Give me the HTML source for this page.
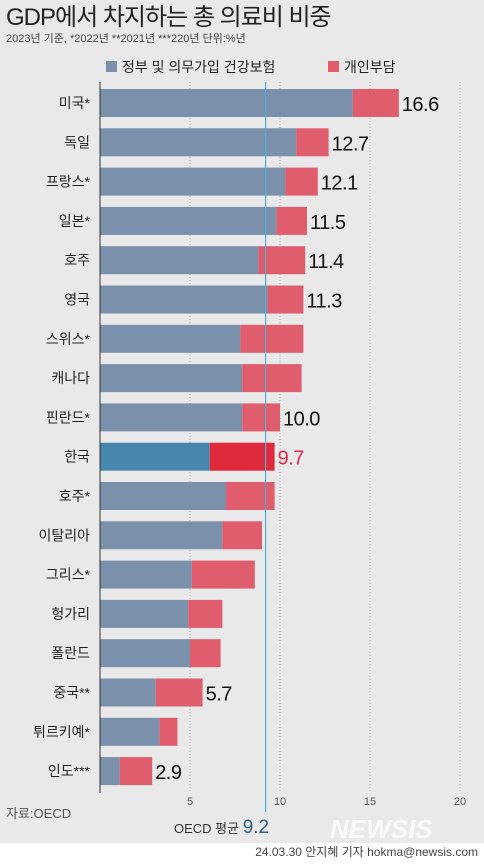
<!DOCTYPE html>
<html><head><meta charset="utf-8"><style>
body{margin:0;width:484px;height:861px;overflow:hidden;background:#fff;font-family:"Liberation Sans","Noto Sans CJK KR",sans-serif}
</style></head><body>
<svg width="484" height="861" xmlns="http://www.w3.org/2000/svg" font-family="Liberation Sans, Noto Sans CJK KR, sans-serif">
<rect x="0" y="0" width="484" height="843" fill="#e9e9ea"/>
<text x="6" y="25" font-size="24" fill="#222" letter-spacing="-1">GDP에서 차지하는 총 의료비 비중</text>
<text x="6" y="42" font-size="11" fill="#444">2023년 기준, *2022년 **2021년 ***220년 단위:%년</text>
<rect x="106" y="61" width="11" height="11" fill="#7b90aa"/>
<text x="122" y="72" font-size="14" fill="#222">정부 및 의무가입 건강보험</text>
<rect x="328" y="61" width="11" height="11" fill="#e05d6d"/>
<text x="344" y="72" font-size="14" fill="#222">개인부담</text>
<g id="grid"></g>
<g id="bars"></g>
<line x1="100" y1="82" x2="100" y2="793" stroke="#333" stroke-width="1"/>
<text x="6" y="818" font-size="13" fill="#555">자료:OECD</text>
<text x="174" y="833" font-size="13" fill="#333">OECD 평균 <tspan font-size="19" fill="#2f5f8a">9.2</tspan></text>
<text x="330" y="838" font-size="26" font-style="italic" font-weight="bold" fill="#fff" opacity="0.8">NEWSIS</text>
<text x="478" y="856" font-size="12" fill="#444" text-anchor="end">24.03.30 안지혜 기자 hokma@newsis.com</text>
</svg>
<script>
const countries=["미국*","독일","프랑스*","일본*","호주","영국","스위스*","캐나다","핀란드*","한국","호주*","이탈리아","그리스*","헝가리","폴란드","중국**","튀르키예*","인도***"];
const publicVals=[14.05,10.9,10.3,9.8,8.8,9.3,7.8,7.9,7.9,6.1,7.0,6.8,5.1,4.9,5.0,3.1,3.3,1.1];
const totalVals=[16.6,12.7,12.1,11.5,11.4,11.3,11.3,11.2,10.0,9.7,9.7,9.0,8.6,6.8,6.7,5.7,4.3,2.9];
const shownLabels=["16.6","12.7","12.1","11.5","11.4","11.3","","","10.0","9.7","","","","","","5.7","","2.9"];
const ticks=[5,10,15,20];
const oecdAvg=9.2;
const NS="http://www.w3.org/2000/svg";
const x=v=>100+v*18;
const y=i=>103+i*39.3;
function mk(tag,attrs,parent){const e=document.createElementNS(NS,tag);for(const k in attrs)e.setAttribute(k,attrs[k]);parent.appendChild(e);return e;}
const grid=document.getElementById('grid'),bars=document.getElementById('bars');
ticks.forEach(t=>{
 const l=mk('line',{x1:x(t),x2:x(t),y1:82,y2:793,stroke:'#aaa','stroke-dasharray':'1,2'},grid);
 
 
 const tx=mk('text',{x:x(t),y:805,'font-size':11,fill:'#555','text-anchor':'middle'},grid);
 tx.textContent=t;
 
 
});
countries.forEach((c,i)=>{
 const kr=c==="한국";
 const cy=y(i);
 const lb=mk('text',{x:90,y:cy+5,'font-size':14,fill:'#222','text-anchor':'end'},bars);
 lb.textContent=c;
 
 
 const b1=mk('rect',{x:x(0),y:cy-14,width:x(publicVals[i])-x(0),height:28,fill:kr?'#4787ad':'#7b90aa'},bars);
 
 
 const b2=mk('rect',{x:x(publicVals[i]),y:cy-14,width:x(totalVals[i])-x(publicVals[i]),height:28,fill:kr?'#e02a3c':'#e05d6d'},bars);
 
 
 if(shownLabels[i]){
  const v=mk('text',{x:x(totalVals[i])+3,y:cy+8,'font-size':20,fill:kr?'#e02a4a':'#111','letter-spacing':'-0.5'},bars);
  v.textContent=shownLabels[i];
  
  
 }
});
const av=mk('line',{x1:x(oecdAvg),x2:x(oecdAvg),y1:82,y2:812,stroke:'#4ab0d8','stroke-width':1.2},bars);


</script>
</body></html>
